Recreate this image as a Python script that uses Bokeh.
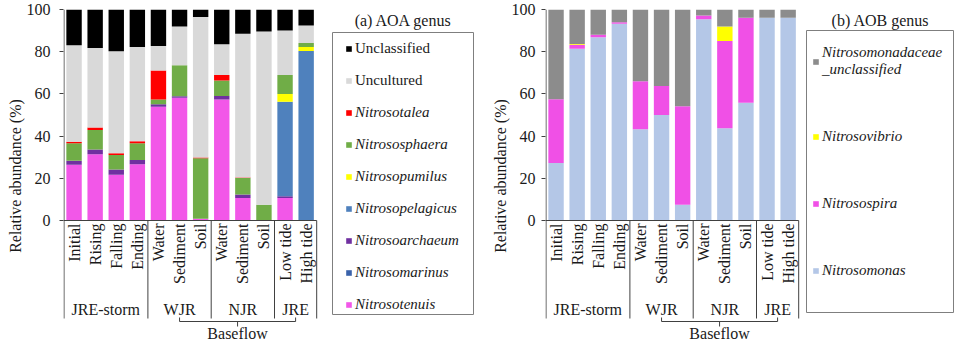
import math
from bokeh.plotting import figure
from bokeh.models import Range1d, FixedTicker, Legend, LegendItem, Title, ColumnDataSource
from bokeh.layouts import row
from bokeh.embed import file_html
from bokeh.resources import INLINE
from bokeh.core.properties import value

# ---------------- data ----------------
samples = ["Initial", "Rising", "Falling", "Ending", "Water", "Sediment", "Soil",
           "Water", "Sediment", "Soil", "Low tide", "High tide"]
sample_groups = ["JRE-storm"] * 4 + ["WJR"] * 3 + ["NJR"] * 3 + ["JRE"] * 2
group_names = ["JRE-storm", "WJR", "NJR", "JRE"]
baseflow_groups = ["WJR", "NJR", "JRE"]
baseflow_label = "Baseflow"
y_ticks = [0, 20, 40, 60, 80, 100]

# AOA genus (%), stacked bottom -> top
aoa_nitrosotenuis    = [26.4, 31.4, 21.7, 26.7, 53.9, 58.2, 0.8, 57.4, 10.7, 0.0, 10.7, 0.0]
aoa_nitrosomarinus   = [0.0, 0.0, 0.0, 0.0, 0.0, 0.0, 0.0, 0.0, 0.0, 0.0, 0.0, 0.0]
aoa_nitrosoarchaeum  = [1.9, 2.2, 2.5, 2.0, 1.2, 0.7, 0.0, 1.6, 1.6, 0.0, 0.8, 0.0]
aoa_nitrosopelagicus = [0.0, 0.0, 0.0, 0.0, 0.0, 0.0, 0.0, 0.0, 0.0, 0.0, 44.8, 80.3]
aoa_nitrosopumilus   = [0.0, 0.0, 0.0, 0.0, 0.0, 0.0, 0.0, 0.0, 0.0, 0.0, 3.6, 1.9]
aoa_nitrososphaera   = [8.3, 9.3, 6.9, 7.9, 2.3, 14.7, 28.7, 7.4, 7.8, 7.5, 9.0, 1.9]
aoa_nitrosotalea     = [0.7, 1.2, 0.8, 1.0, 13.7, 0.0, 0.3, 2.5, 0.3, 0.0, 0.0, 0.0]
aoa_uncultured       = [45.7, 37.7, 48.3, 44.6, 11.6, 18.4, 66.7, 14.6, 68.1, 82.1, 21.2, 8.3]
aoa_unclassified     = [17.0, 18.2, 19.8, 17.8, 17.3, 8.0, 3.5, 16.5, 11.5, 10.4, 9.9, 7.6]

aoa_names = ["Nitrosotenuis", "Nitrosomarinus", "Nitrosoarchaeum", "Nitrosopelagicus",
             "Nitrosopumilus", "Nitrososphaera", "Nitrosotalea", "Uncultured", "Unclassified"]
aoa_series = [aoa_nitrosotenuis, aoa_nitrosomarinus, aoa_nitrosoarchaeum, aoa_nitrosopelagicus,
              aoa_nitrosopumilus, aoa_nitrososphaera, aoa_nitrosotalea, aoa_uncultured,
              aoa_unclassified]
aoa_colors = ["#F257E8", "#3A62AA", "#7030A0", "#4F81BD", "#FFFF00", "#70AD47",
              "#FF0000", "#D9D9D9", "#000000"]
aoa_italic = [True, True, True, True, True, True, True, False, False]

# AOB genus (%), stacked bottom -> top
aob_nitrosomonas  = [27.2, 81.4, 86.9, 93.2, 43.2, 50.0, 7.5, 95.4, 43.7, 55.8, 96.1, 96.1]
aob_nitrosospira  = [30.3, 1.9, 1.1, 0.7, 22.8, 13.7, 46.7, 1.8, 41.4, 40.3, 0.0, 0.0]
aob_nitrosovibrio = [0.0, 0.3, 0.0, 0.0, 0.0, 0.0, 0.0, 0.0, 6.9, 0.0, 0.0, 0.0]
aob_nitrosomonadaceae_unclassified = [42.5, 16.4, 12.0, 6.1, 34.0, 36.3, 45.8, 2.8, 8.0, 3.9, 3.9, 3.9]

aob_names = ["Nitrosomonas", "Nitrosospira", "Nitrosovibrio", "Nitrosomonadaceae_unclassified"]
aob_labels = ["Nitrosomonas", "Nitrosospira", "Nitrosovibrio", "Nitrosomonadaceae\n_unclassified"]
aob_series = [aob_nitrosomonas, aob_nitrosospira, aob_nitrosovibrio,
              aob_nitrosomonadaceae_unclassified]
aob_colors = ["#B4C7E7", "#F050E6", "#FFFF00", "#8C8C8C"]

# ---------------- geometry ----------------
H = 342
TOP = 9                 # canvas px of the 100 % line
ZERO = 220              # canvas px of the 0 % line
PX_BAR = 21.1           # px per category
PX_PCT = (ZERO - TOP) / 100.0
FONT = "'Liberation Serif', 'Times New Roman', serif"
LINE = "#404040"
TXT = "#1a1a1a"


def make_chart(width, border_left, page_left, names, labels, series, colors, italic,
               title, legend_glyph_px, legend_rows, box_px, title_px, tick_standoff,
               title_offset):
    frame_left = page_left + border_left
    frame_w = width - border_left
    x_end = frame_w / PX_BAR
    y_start = 100 - (H - TOP) / PX_PCT

    def dx(px):
        return (px - frame_left) / PX_BAR

    def dy(py):
        return 100 - (py - TOP) / PX_PCT

    p = figure(width=width, height=H, x_range=Range1d(0, x_end), y_range=Range1d(y_start, 100),
               output_backend="svg", toolbar_location=None, x_axis_location=None,
               min_border_left=border_left, min_border_right=0, min_border_top=TOP,
               min_border_bottom=0)
    p.outline_line_color = None
    p.grid.visible = False
    p.background_fill_color = "white"

    yax = p.yaxis[0]
    yax.ticker = FixedTicker(ticks=y_ticks)
    yax.axis_line_color = None
    yax.major_tick_in = 0
    yax.major_tick_out = 4
    yax.major_tick_line_color = LINE
    yax.minor_tick_line_color = None
    yax.major_label_text_font = FONT
    yax.major_label_text_font_size = "16px"
    yax.major_label_text_color = TXT
    yax.major_label_standoff = tick_standoff

    n = len(samples)
    xs = [i + 0.5 for i in range(n)]
    data = {"x": xs}
    for nm, s in zip(names, series):
        data[nm] = s
    src = ColumnDataSource(data)
    rends = p.vbar_stack(names, x="x", width=0.73, color=colors, line_color=None, source=src)

    # axis line and category table lines
    eps = 0.5 / PX_BAR
    table_bottom = dy(318)
    bounds = []
    for g in group_names:
        idx = [i for i, sg in enumerate(sample_groups) if sg == g]
        bounds.append(idx[-1] + 1)
    p.segment(x0=[eps], y0=[table_bottom], x1=[eps], y1=[100], line_color=LINE, line_width=1)
    p.segment(x0=[0], y0=[0], x1=[n], y1=[0], line_color=LINE, line_width=1)
    p.segment(x0=bounds, y0=[0] * len(bounds), x1=bounds, y1=[table_bottom] * len(bounds),
              line_color=LINE, line_width=1)

    # category labels (rotated)
    p.text(x=xs, y=[dy(223)] * n, text=samples, angle=math.pi / 2, text_align="right",
           text_baseline="middle", text_font=value(FONT), text_font_size="16px",
           text_color=TXT)
    # group labels
    gcent = {}
    for g in group_names:
        idx = [i for i, sg in enumerate(sample_groups) if sg == g]
        gcent[g] = (idx[0] + idx[-1] + 1) / 2
    p.text(x=[gcent[g] for g in group_names], y=[dy(309)] * len(group_names), text=group_names,
           text_align="center", text_baseline="middle", text_font=value(FONT),
           text_font_size="16px", text_color=TXT)
    # baseflow bracket
    bx0 = gcent[baseflow_groups[0]]
    bx1 = gcent[baseflow_groups[-1]]
    bm = (bx0 + bx1) / 2
    yb = dy(321)
    p.segment(x0=[bx0, bx0, bx1, bm], y0=[yb, dy(317), dy(317), yb],
              x1=[bx1, bx0, bx1, bm], y1=[yb, yb, yb, dy(326)], line_color=LINE, line_width=1)
    p.text(x=[bm], y=[dy(333)], text=[baseflow_label], text_align="center",
           text_baseline="middle", text_font=value(FONT), text_font_size="16px", text_color=TXT)

    # legend title and box
    p.text(x=[dx(title_px[0])], y=[dy(title_px[1])], text=[title], text_align="center",
           text_baseline="middle", text_font=value(FONT), text_font_size="16px", text_color=TXT)
    p.quad(left=[dx(box_px[0])], right=[dx(box_px[1])], top=[dy(box_px[2])],
           bottom=[dy(box_px[3])], fill_color=None, line_color="#7F7F7F", line_width=1)

    # legends (top item first), split by font style
    order = list(range(len(names)))[::-1]
    chunks = []
    cur = None
    for k in order:
        if cur is None or cur[0] != italic[k]:
            cur = (italic[k], [])
            chunks.append(cur)
        cur[1].append(k)
    for (ital, ks), (bottom_px, spacing) in zip(chunks, legend_rows):
        items = [LegendItem(label=labels[k], renderers=[rends[k]]) for k in ks]
        leg = Legend(items=items, location=(legend_glyph_px - frame_left, H - bottom_px),
                     orientation="vertical", glyph_width=7, glyph_height=7, label_standoff=3,
                     label_height=17, spacing=spacing, padding=0, margin=0,
                     border_line_color=None, background_fill_alpha=0,
                     label_text_font=FONT, label_text_font_size="15px",
                     label_text_font_style="italic" if ital else "normal",
                     label_text_color=TXT)
        p.add_layout(leg)

    ttl = Title(text="Relative abundance (%)", align="center", offset=title_offset, standoff=0,
                text_font=FONT, text_font_size="16px", text_font_style="normal",
                text_color=TXT)
    p.add_layout(ttl, "left")
    return p


W1 = 485
p1 = make_chart(W1, 63, 0, aoa_names, aoa_names, aoa_series, aoa_colors, aoa_italic,
                "(a) AOA genus", 345, [(88.5, 15), (312.5, 15)],
                (332, 473, 32, 314), (403, 20), 9, 57)
p2 = make_chart(954 - W1, 60, W1, aob_names, aob_labels, aob_series, aob_colors,
                [True] * 4, "(b) AOB genus", 812, [(279, 50)],
                (806, 953, 30, 312), (880, 20), 6, 57)

layout = row(p1, p2)
open("out.html", "w").write(file_html(layout, INLINE))
